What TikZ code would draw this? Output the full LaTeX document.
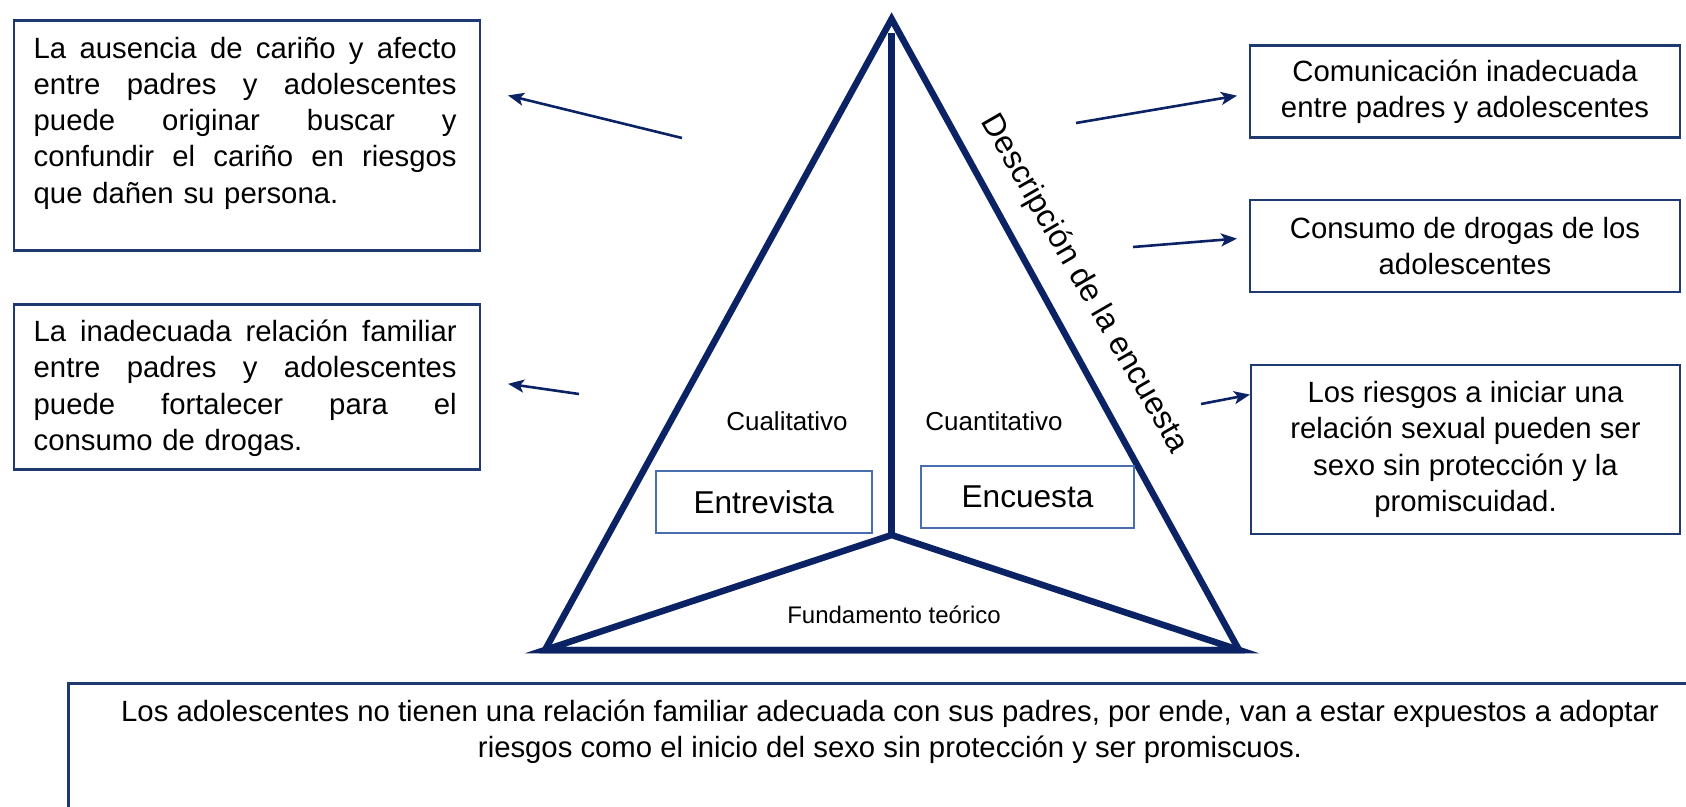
\documentclass[tikz,border=0pt]{standalone}
\usepackage{fontspec}
\setmainfont{Liberation Sans}
\usetikzlibrary{arrows.meta}
\definecolor{navy}{HTML}{0B2365}
\definecolor{boxblue}{HTML}{1F3A70}
\definecolor{lightblue}{HTML}{4A6DAE}
\newcommand{\jline}[1]{\leavevmode\hbox to 423pt{\spaceskip=8pt plus 60pt #1}}
\begin{document}
\begin{tikzpicture}[x=1pt,y=-1pt,
  tri/.style={draw=navy, line width=6.5pt, line join=miter},
  arr/.style={draw=navy, line width=2.6pt, -{Stealth[length=16pt,width=13pt,inset=4pt]}},
  tbox/.style={draw=boxblue, line width=2.6pt, inner sep=0pt},
  mbox/.style={draw=lightblue, line width=2pt, inner sep=0pt},
  bodytext/.style={font=\fontsize{29.3}{36.2}\selectfont, inner sep=0pt},
  jtext/.style={bodytext, text width=423pt, align=left, anchor=base west},
  ctext/.style={bodytext, align=center},
]
\useasboundingbox (0,0) rectangle (1686,806);
\clip (0,0) rectangle (1686,806);

% left boxes
\node[tbox, anchor=north west, minimum width=466pt, minimum height=230pt] (b1) at (12.5,19) {};
\node[jtext] (t1) at (33.5,58.3) {\jline{La ausencia de cariño y afecto}\\
\jline{entre padres y adolescentes}\\
\jline{puede originar buscar y}\\
\jline{confundir el cariño en riesgos}\\
que dañen su persona.};

\node[tbox, anchor=north west, minimum width=466pt, minimum height=165pt] (b2) at (12.5,303) {};
\node[jtext] (t2) at (33.5,341.7) {\jline{La inadecuada relación familiar}\\
\jline{entre padres y adolescentes}\\
\jline{puede fortalecer para el}\\
consumo de drogas.};

% right boxes
\node[tbox, ctext, minimum width=430pt, minimum height=92pt] (r1) at (1465,91.5)
  {Comunicación inadecuada\\entre padres y adolescentes};
\node[tbox, ctext, minimum width=430pt, minimum height=92pt] (r2) at (1465,246)
  {Consumo de drogas de los\\adolescentes};
\node[tbox, ctext, minimum width=429pt, minimum height=169pt] (r3) at (1465.5,449.5)
  {Los riesgos a iniciar una\\relación sexual pueden ser\\sexo sin protección y la\\promiscuidad.};

% bottom box
\node[tbox, anchor=north west, minimum width=1700pt, minimum height=200pt] (b6) at (67,682) {};
\node[ctext] (t6) at (890,732)
  {Los adolescentes no tienen una relación familiar adecuada con sus padres, por ende, van a estar expuestos a adoptar\\riesgos como el inicio del sexo sin protección y ser promiscuos.};

% triangle
\coordinate (apex) at (891.6,19);
\coordinate (bl) at (545,650);
\coordinate (br) at (1239,650);
\coordinate (ctr) at (891.6,535);
\coordinate (vtop) at (891.6,33);
\draw[tri] (apex) -- (bl) -- (br) -- cycle;
\draw[tri] (ctr) -- (bl) -- (br) -- cycle;
\draw[tri, line cap=butt] (vtop) -- (ctr);

% inner labels
\node[font=\fontsize{26}{30}\selectfont, inner sep=0pt] (cual) at (787,421) {Cualitativo};
\node[font=\fontsize{26}{30}\selectfont, inner sep=0pt] (cuan) at (994,421) {Cuantitativo};
\node[mbox, minimum width=215.5pt, minimum height=62.5pt, font=\fontsize{31.6}{36}\selectfont] (entre) at (763.75,501.75) {Entrevista};
\node[mbox, minimum width=213pt, minimum height=62pt, font=\fontsize{31.6}{36}\selectfont] (encu) at (1027.5,497) {Encuesta};
\node[font=\fontsize{24}{28}\selectfont, inner sep=0pt] (fund) at (894,615) {Fundamento teórico};
\node[font=\fontsize{32}{36}\selectfont, inner sep=0pt, rotate=-60] (desc) at (1084,284) {Descripción de la encuesta};

% arrows
\coordinate (a1s) at (682,138);   \coordinate (a1e) at (508,95.4);
\coordinate (a2s) at (579,394);   \coordinate (a2e) at (508,383.8);
\coordinate (a3s) at (1076,123);  \coordinate (a3e) at (1237,95.7);
\coordinate (a4s) at (1133,247);  \coordinate (a4e) at (1237,238.6);
\coordinate (a5s) at (1201,404);  \coordinate (a5e) at (1250,394.6);
\draw[arr] (a1s) -- (a1e);
\draw[arr] (a2s) -- (a2e);
\draw[arr] (a3s) -- (a3e);
\draw[arr] (a4s) -- (a4e);
\draw[arr] (a5s) -- (a5e);
\end{tikzpicture}
\end{document}
